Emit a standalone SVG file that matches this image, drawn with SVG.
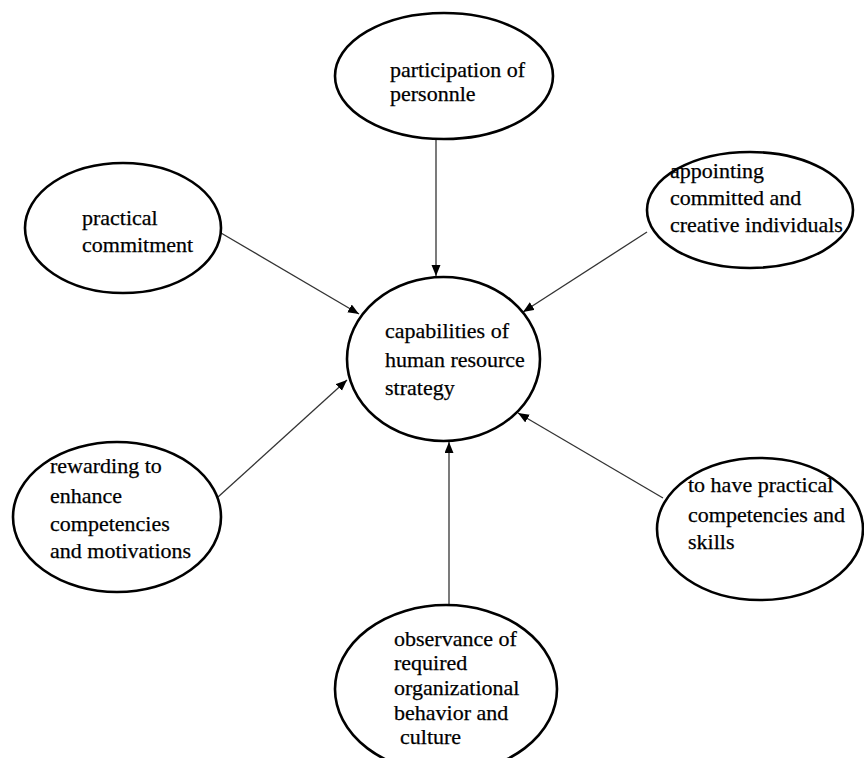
<svg xmlns="http://www.w3.org/2000/svg" width="864" height="758" viewBox="0 0 864 758">
<defs>
<marker id="arr" markerUnits="userSpaceOnUse" markerWidth="12" markerHeight="10" refX="11" refY="4.5" orient="auto">
<path d="M0,0 L11,4.5 L0,9 Z" fill="#000"/>
</marker>
<style>
.node ellipse{fill:#fff;stroke:#000;stroke-width:2.6}
.node text{font-family:"Liberation Serif","Times New Roman",serif;font-size:22px;fill:#000;stroke:#000;stroke-width:0.25}
.conn line{stroke:#333;stroke-width:1.3;marker-end:url(#arr)}
</style>
</defs>
<rect width="864" height="758" fill="#fff"/>
<g id="connectors" class="conn">
<line x1="436" y1="139" x2="436" y2="276"/>
<line x1="221" y1="233" x2="359" y2="314"/>
<line x1="647" y1="232" x2="523" y2="312"/>
<line x1="218" y1="497" x2="347" y2="380"/>
<line x1="663" y1="498" x2="518" y2="413"/>
<line x1="449" y1="606" x2="449" y2="442"/>
</g>
<g id="n_participation" class="node">
<ellipse cx="444" cy="76" rx="109" ry="63"/>
<text x="390" y="77">participation of</text>
<text x="390" y="101">personnle</text>
</g>
<g id="n_practical" class="node">
<ellipse cx="123" cy="228" rx="98" ry="65"/>
<text x="82" y="225">practical</text>
<text x="82" y="252">commitment</text>
</g>
<g id="n_appointing" class="node">
<ellipse cx="750" cy="210" rx="103" ry="58"/>
<text x="670" y="178">appointing</text>
<text x="670" y="205">committed and</text>
<text x="670" y="232">creative individuals</text>
</g>
<g id="n_center" class="node">
<ellipse cx="443.5" cy="359" rx="96.5" ry="82"/>
<text x="385" y="338">capabilities of</text>
<text x="385" y="367">human resource</text>
<text x="385" y="395">strategy</text>
</g>
<g id="n_rewarding" class="node">
<ellipse cx="117" cy="517" rx="104" ry="75"/>
<text x="50" y="473">rewarding to</text>
<text x="50" y="503">enhance</text>
<text x="50" y="531">competencies</text>
<text x="50" y="558">and motivations</text>
</g>
<g id="n_skills" class="node">
<ellipse cx="760" cy="529" rx="103" ry="71"/>
<text x="688" y="492">to have practical</text>
<text x="688" y="522">competencies and</text>
<text x="688" y="549">skills</text>
</g>
<g id="n_observance" class="node">
<ellipse cx="446" cy="689" rx="111" ry="84"/>
<text x="394" y="646">observance of</text>
<text x="394" y="670">required</text>
<text x="394" y="695">organizational</text>
<text x="394" y="720">behavior and</text>
<text x="400" y="744">culture</text>
</g>
</svg>
